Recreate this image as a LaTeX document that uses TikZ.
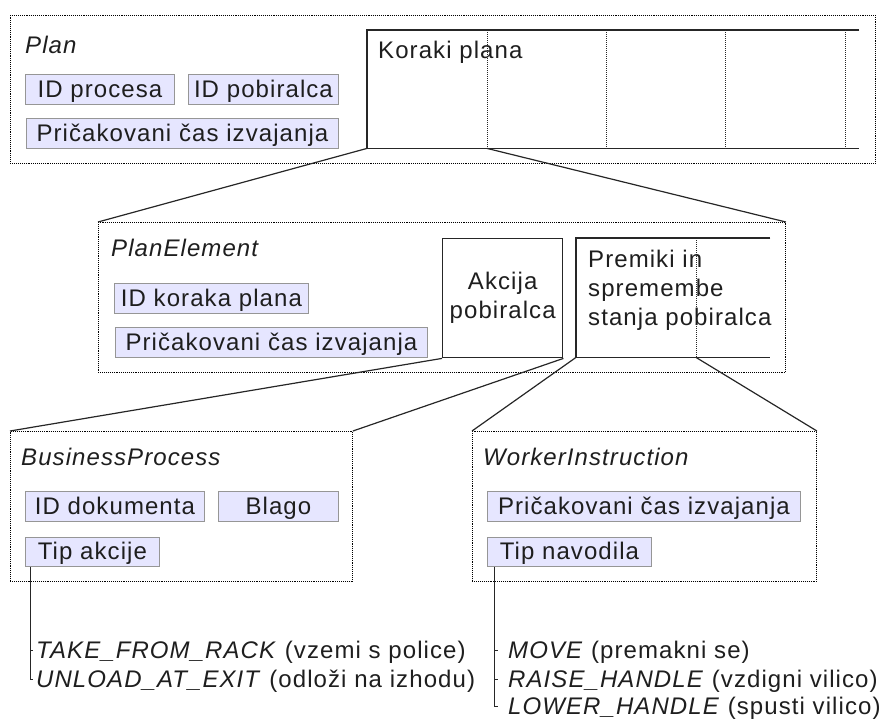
\documentclass[tikz,border=0pt]{standalone}
\usepackage{fontspec}
\setmainfont{Liberation Sans}[LetterSpace=4.5]
\definecolor{attrfill}{RGB}{230,230,255}
\definecolor{attrline}{RGB}{150,150,150}
\definecolor{ink}{RGB}{30,30,30}
\begin{document}
\begin{tikzpicture}[x=1pt,y=-1pt,
  font=\fontsize{24}{29}\selectfont, text=ink,
  container/.style={draw=black, densely dotted, line width=0.9pt, inner sep=0pt, anchor=north west},
  attr/.style={draw=attrline, fill=attrfill, line width=0.9pt, inner sep=0pt,
    text height=16pt, text depth=0pt, anchor=north west, minimum height=30pt},
  title/.style={font=\fontsize{24}{29}\selectfont\itshape, anchor=base west, inner sep=0pt},
  link/.style={draw=black!85, line width=1.2pt},
  frame/.style={draw=black!85, line width=1.4pt},
  divider/.style={draw=black!85, densely dotted, line width=1pt},
  item/.style={anchor=west, inner sep=0pt, inner xsep=3pt, text height=16pt, text depth=0pt},
  stem/.style={draw=black!85, line width=1pt}]
\useasboundingbox (0,0) rectangle (886,720);

% ---- Plan ----
\node[container, minimum width=865pt, minimum height=148pt] (plan) at (10,15) {};
\node[title] (plan-t) at (25,53) {Plan};
\node[attr, minimum width=149pt] (p-id) at (25,74) {ID procesa};
\node[attr, minimum width=150pt] (p-pob) at (188,74) {ID pobiralca};
\node[attr, minimum width=312pt] (p-cas) at (26,118) {Pričakovani čas izvajanja};

% steps of the plan: open-ended strip with dotted cell borders
\node[inner sep=0pt, minimum width=492pt, minimum height=118pt, anchor=north west] (ks) at (367,30) {};
\draw[frame] (ks.north east) -- (ks.north west) -- (ks.south west) -- (ks.south east);
\foreach \dx in {120,239,358,478}
  \draw[divider] ([xshift=\dx pt]ks.north west) -- ([xshift=\dx pt]ks.south west);
\coordinate (ks-d1) at ([xshift=120pt]ks.south west);
\node[anchor=base west, inner sep=0pt] (ks-t) at (378,58) {Koraki plana};

% ---- PlanElement ----
\node[container, minimum width=687pt, minimum height=150pt] (pe) at (98,222) {};
\node[title] (pe-t) at (111,256) {PlanElement};
\node[attr, minimum width=194pt] (pe-id) at (114,283) {ID koraka plana};
\node[attr, minimum width=312pt] (pe-cas) at (115,327) {Pričakovani čas izvajanja};

\node[frame, inner sep=0pt, minimum width=120pt, minimum height=119pt, anchor=north west,
  align=center] (ak) at (442,238) {Akcija\\pobiralca};

\node[inner sep=0pt, minimum width=194pt, minimum height=119pt, anchor=north west] (pm) at (576,238) {};
\draw[frame] (pm.north east) -- (pm.north west) -- (pm.south west) -- (pm.south east);
\draw[divider] ([xshift=120pt]pm.north west) -- ([xshift=120pt]pm.south west);
\coordinate (pm-d1) at ([xshift=120pt]pm.south west);
\node[anchor=north west, inner sep=0pt, align=left] (pm-t) at (588,250)
  {Premiki in\\spremembe\\stanja pobiralca};

% ---- BusinessProcess ----
\node[container, minimum width=342pt, minimum height=150pt] (bp) at (10,431) {};
\node[title] (bp-t) at (21,465) {BusinessProcess};
\node[attr, minimum width=179pt] (bp-doc) at (25,491) {ID dokumenta};
\node[attr, minimum width=120pt] (bp-bl) at (218,491) {Blago};
\node[attr, minimum width=134pt, minimum height=29pt] (ta) at (25,537) {Tip akcije};

% ---- WorkerInstruction ----
\node[container, minimum width=344pt, minimum height=150pt] (wi) at (472,431) {};
\node[title] (wi-t) at (483,465) {WorkerInstruction};
\node[attr, minimum width=313pt] (wi-cas) at (487,491) {Pričakovani čas izvajanja};
\node[attr, minimum width=164pt, minimum height=29pt] (tn) at (487,537) {Tip navodila};

% ---- zoom connectors between levels ----
\draw[link] (ks.south west) -- (pe.north west);
\draw[link] (ks-d1) -- (pe.north east);
\draw[link] (ak.south west) -- (bp.north west);
\draw[link] (ak.south east) -- (bp.north east);
\draw[link] (pm.south west) -- (wi.north west);
\draw[link] (pm-d1) -- (wi.north east);

% ---- enumerated values ----
\node[item] (take) at (33,650) {\textit{TAKE\_FROM\_RACK} (vzemi s police)};
\node[item] (unload) at (33,679) {\textit{UNLOAD\_AT\_EXIT} (odloži na izhodu)};
\coordinate (ta-stem) at ([xshift=5pt]ta.south west);
\draw[stem] (ta-stem) |- (take.west);
\draw[stem] (ta-stem) |- (unload.west);

\node[item] (move) at (505,650) {\textit{MOVE} (premakni se)};
\node[item] (raise) at (505,679) {\textit{RAISE\_HANDLE} (vzdigni vilico)};
\node[item] (lower) at (505,706) {\textit{LOWER\_HANDLE} (spusti vilico)};
\coordinate (tn-stem) at ([xshift=7pt]tn.south west);
\draw[stem] (tn-stem) |- ([xshift=-7pt]move.west);
\draw[stem] (tn-stem) |- ([xshift=-7pt]raise.west);
\draw[stem] (tn-stem) |- ([xshift=-7pt]lower.west);
\end{tikzpicture}
\end{document}
